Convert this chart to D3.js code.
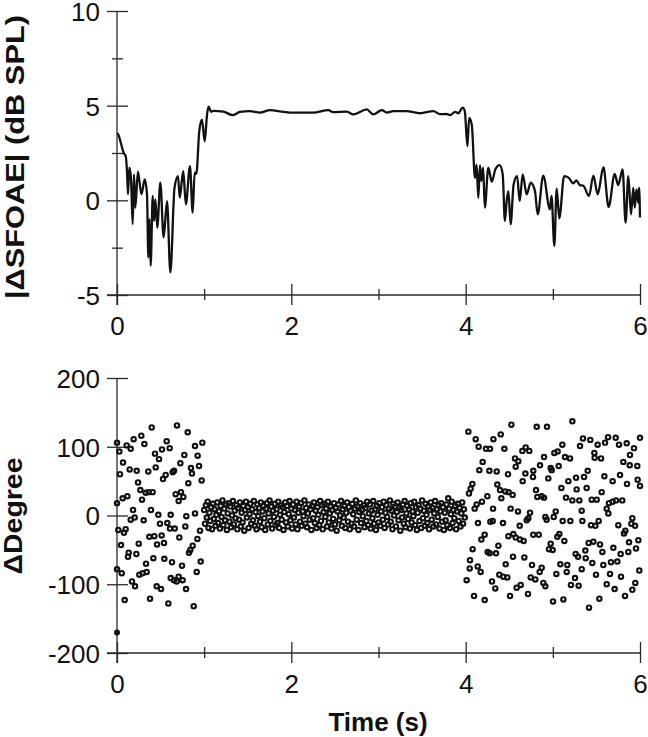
<!DOCTYPE html>
<html><head><meta charset="utf-8">
<script src="https://cdn.jsdelivr.net/npm/d3@7"></script>
<style>
html,body{margin:0;padding:0;background:#fff;}
svg{display:block;}
</style></head>
<body>
<svg id="chart" width="648" height="737"></svg>
<script>
// ---------- DATA ----------
const timeTicksMajor = [0, 2, 4, 6];
const timeTicksMinor = [1, 3, 5];
const sfoaeTicksMajor = [-5, 0, 5, 10];
const sfoaeTicksMinor = [-2.5, 2.5, 7.5];
const degreeTicks = [-200, -100, 0, 100, 200];

// |ΔSFOAE| trace: time (s), dB SPL
const sfoaeTime = [0.00,0.01,0.04,0.077,0.10,0.115,0.126,0.141,0.16,0.18,0.195,0.21,0.24,0.28,0.318,0.344,0.36,0.372,0.386,0.41,0.425,0.44,0.462,0.497,0.535,0.574,0.612,0.66,0.70,0.72,0.76,0.79,0.837,0.868,0.891,0.91,0.944,0.975,1.006,1.033,1.05,1.08,1.105,1.22,1.33,1.41,1.525,1.64,1.755,1.91,2.02,2.25,2.425,2.48,2.635,2.71,2.865,2.94,3.04,3.095,3.17,3.32,3.475,3.63,3.705,3.78,3.82,3.88,3.915,3.966,3.99,4.02,4.04,4.07,4.107,4.125,4.145,4.164,4.18,4.20,4.22,4.26,4.30,4.34,4.39,4.425,4.45,4.47,4.49,4.516,4.55,4.59,4.62,4.654,4.70,4.746,4.795,4.826,4.89,4.967,4.985,5.017,5.044,5.074,5.13,5.18,5.235,5.27,5.31,5.35,5.415,5.465,5.515,5.58,5.64,5.71,5.75,5.80,5.835,5.866,5.897,5.923,5.94,5.96,5.98,5.99,6.0];
const sfoaeValue = [3.5,3.51,3.1,2.5,2.33,1.5,0.32,1.72,1.2,-1.26,1.37,-0.39,1.51,0.32,1.1,0.32,-3.02,-1.0,-3.46,0.23,-1.09,0.05,-1.44,0.93,-1.96,-0.04,-3.81,0.67,1.28,0.14,1.54,-0.21,1.81,-0.65,1.46,1.4,3.65,4.26,3.12,4.53,4.95,4.68,4.72,4.68,4.5,4.67,4.71,4.63,4.76,4.67,4.63,4.63,4.76,4.66,4.69,4.54,4.8,4.54,4.76,4.63,4.71,4.71,4.6,4.71,4.55,4.56,4.5,4.67,4.6,4.9,4.72,2.86,4.35,4.0,1.19,1.89,0.14,1.84,1.02,1.72,-0.39,1.72,0.98,1.63,1.86,1.37,-1.09,-0.04,0.49,-1.26,0.84,1.28,-0.04,1.37,0.32,0.93,0.49,-0.74,1.3,-0.47,0.23,-2.4,0.62,-0.95,1.28,1.2,0.9,1.05,0.8,0.77,0.23,1.3,0.32,1.75,-0.35,1.4,0.8,1.63,-1.18,1.28,-0.74,0.67,-0.39,0.58,-0.12,0.67,-0.91];

// ΔDegree scatter: [time (s), degree]
const onsetPoints = [[0.398,128],[0.688,131],[0.811,121],[0.279,116],[0.191,111],[0.314,104],[0.570,108],[0.979,106],[0.0,106],[0.111,102],[0.157,97],[0.027,93],[0.436,90],[0.516,96],[0.604,98],[0.895,101],[0.925,87],[0.482,82],[0.772,88],[0.069,77],[0.727,76],[0.941,72],[0.034,60],[0.145,67],[0.226,65],[0.359,64],[0.444,70],[0.528,53],[0.558,59],[0.639,63],[0.654,65],[0.849,69],[0.86,61],[0.818,47],[0.971,51],[0.241,48],[0.268,37],[0.287,23],[0.329,33],[0.363,34],[0.409,34],[0.673,31],[0.734,34],[0.761,27],[0.707,21],[0.065,25],[0.119,28],[0.0,18],[0.184,8],[0.39,8],[0.157,-6],[0.203,-3],[0.306,-7],[0.474,1],[0.616,1],[0.493,-12],[0.577,-11],[0.608,-19],[0.662,-19],[0.795,-1],[0.895,3],[0.015,-21],[0.08,-25],[0.099,-20],[0.784,-16],[0.952,-22],[0.371,-31],[0.428,-30],[0.512,-29],[0.459,-42],[0.539,-40],[0.715,-32],[0.922,-34],[0.868,-44],[0.841,-50],[0.826,-54],[0.046,-43],[0.249,-41],[0.134,-54],[0.126,-60],[0.222,-56],[0.417,-62],[0.543,-63],[0.631,-68],[0.333,-70],[0.746,-73],[0.96,-67],[0.0,-78],[0.054,-84],[0.256,-86],[0.294,-84],[0.340,-82],[0.616,-91],[0.654,-94],[0.707,-89],[0.753,-94],[0.685,-96],[0.172,-96],[0.207,-103],[0.455,-103],[0.505,-107],[0.792,-107],[0.914,-82],[0.088,-123],[0.379,-121],[0.589,-128],[0.88,-132]];

const steadyPoints = [[1.00,8],[1.01,-12],[1.02,15],[1.03,-3],[1.04,20],[1.05,-18],[1.06,4],[1.07,-8],[1.08,12],[1.09,-20],[1.10,17],[1.11,-5],[1.12,9],[1.13,-15],[1.14,1],[1.15,19],[1.16,-11],[1.17,6],[1.18,-19],[1.19,14],[1.20,-2],[1.21,22],[1.22,-14],[1.23,10],[1.24,-7],[1.25,16],[1.26,-21],[1.27,3],[1.28,18],[1.29,-9],[1.30,13],[1.31,-17],[1.32,0],[1.33,21],[1.34,-13],[1.35,7],[1.36,-4],[1.37,15],[1.38,-20],[1.39,11],[1.40,-6],[1.41,19],[1.42,-16],[1.43,4],[1.44,-10],[1.45,14],[1.46,-22],[1.47,8],[1.48,20],[1.49,-3],[1.50,12],[1.51,-18],[1.52,2],[1.53,17],[1.54,-12],[1.55,9],[1.56,-7],[1.57,21],[1.58,-15],[1.59,5],[1.60,-20],[1.61,16],[1.62,-1],[1.63,11],[1.64,-9],[1.65,19],[1.66,-17],[1.67,6],[1.68,14],[1.69,-4],[1.70,-21],[1.71,10],[1.72,18],[1.73,-13],[1.74,3],[1.75,22],[1.76,-8],[1.77,13],[1.78,-19],[1.79,7],[1.80,-2],[1.81,17],[1.82,-14],[1.83,9],[1.84,-11],[1.85,20],[1.86,-18],[1.87,1],[1.88,15],[1.89,-6],[1.90,12],[1.91,-21],[1.92,5],[1.93,19],[1.94,-10],[1.95,14],[1.96,-16],[1.97,2],[1.98,21],[1.99,-7],[2.00,10],[2.01,-19],[2.02,16],[2.03,-3],[2.04,8],[2.05,-13],[2.06,20],[2.07,-20],[2.08,4],[2.09,13],[2.10,-9],[2.11,18],[2.12,-15],[2.13,6],[2.14,-1],[2.15,22],[2.16,-12],[2.17,11],[2.18,-17],[2.19,3],[2.20,16],[2.21,-6],[2.22,9],[2.23,-21],[2.24,14],[2.25,-4],[2.26,19],[2.27,-11],[2.28,7],[2.29,-18],[2.30,12],[2.31,1],[2.32,-14],[2.33,21],[2.34,-8],[2.35,15],[2.36,-20],[2.37,5],[2.38,17],[2.39,-2],[2.40,10],[2.41,-16],[2.42,20],[2.43,-10],[2.44,3],[2.45,13],[2.46,-19],[2.47,8],[2.48,-5],[2.49,18],[2.50,-13],[2.51,11],[2.52,-22],[2.53,6],[2.54,16],[2.55,-7],[2.56,0],[2.57,21],[2.58,-15],[2.59,9],[2.60,-3],[2.61,14],[2.62,-18],[2.63,4],[2.64,19],[2.65,-9],[2.66,12],[2.67,-20],[2.68,7],[2.69,-12],[2.70,17],[2.71,2],[2.72,-16],[2.73,10],[2.74,22],[2.75,-6],[2.76,13],[2.77,-21],[2.78,5],[2.79,18],[2.80,-11],[2.81,8],[2.82,-1],[2.83,15],[2.84,-17],[2.85,11],[2.86,-8],[2.87,20],[2.88,-14],[2.89,3],[2.90,16],[2.91,-19],[2.92,7],[2.93,-4],[2.94,21],[2.95,-12],[2.96,9],[2.97,-21],[2.98,14],[2.99,1],[3.00,-10],[3.01,18],[3.02,-15],[3.03,6],[3.04,12],[3.05,-6],[3.06,20],[3.07,-18],[3.08,4],[3.09,15],[3.10,-2],[3.11,-13],[3.12,10],[3.13,22],[3.14,-9],[3.15,7],[3.16,-20],[3.17,17],[3.18,0],[3.19,13],[3.20,-16],[3.21,5],[3.22,19],[3.23,-7],[3.24,11],[3.25,-22],[3.26,8],[3.27,-3],[3.28,16],[3.29,-12],[3.30,21],[3.31,-17],[3.32,3],[3.33,14],[3.34,-5],[3.35,9],[3.36,-19],[3.37,18],[3.38,-10],[3.39,6],[3.40,-1],[3.41,20],[3.42,-14],[3.43,12],[3.44,-21],[3.45,4],[3.46,15],[3.47,-8],[3.48,10],[3.49,-18],[3.50,22],[3.51,-4],[3.52,7],[3.53,-15],[3.54,17],[3.55,1],[3.56,-11],[3.57,13],[3.58,-20],[3.59,8],[3.60,19],[3.61,-6],[3.62,11],[3.63,-16],[3.64,3],[3.65,21],[3.66,-13],[3.67,9],[3.68,-2],[3.69,15],[3.70,-19],[3.71,6],[3.72,18],[3.73,-9],[3.74,12],[3.75,-21],[3.76,4],[3.77,-7],[3.78,16],[3.79,-14],[3.80,25],[3.81,10],[3.82,-18],[3.83,2],[3.84,20],[3.85,-11],[3.86,8],[3.87,-4],[3.88,14],[3.89,-20],[3.90,6],[3.91,17],[3.92,-8],[3.93,11],[3.94,-16],[3.95,3],[3.96,19],[3.97,-12],[3.98,9],[3.99,-3]];

const offsetPoints = [[4.031,122],[4.115,111],[4.149,100],[4.233,97],[4.279,97],[4.318,111],[4.402,118],[4.444,97],[4.524,132],[4.815,129],[4.933,129],[5.224,137],[5.346,112],[5.430,110],[5.633,114],[5.721,113],[6.0,113],[5.109,103],[5.312,101],[5.514,103],[5.599,106],[5.759,103],[5.847,105],[5.931,98],[4.650,94],[4.688,99],[4.730,94],[5.017,91],[5.055,93],[5.140,85],[5.197,83],[5.476,91],[5.480,84],[5.553,83],[5.885,88],[4.195,78],[4.157,66],[4.272,65],[4.356,64],[4.486,60],[4.566,83],[4.604,79],[4.574,71],[4.685,61],[4.776,65],[4.772,56],[4.899,85],[4.853,73],[4.975,69],[4.987,66],[4.948,54],[5.067,72],[5.266,55],[5.358,56],[5.400,65],[5.178,50],[5.591,57],[5.771,59],[5.809,78],[5.882,73],[5.969,72],[5.973,52],[6.0,43],[5.686,50],[5.851,46],[4.654,50],[4.077,46],[4.057,39],[4.038,32],[4.363,45],[4.394,37],[4.455,35],[4.493,34],[4.539,30],[4.409,25],[4.249,28],[4.187,20],[4.126,16],[4.103,10],[4.314,10],[4.516,10],[4.600,6],[4.738,4],[4.807,37],[4.822,27],[4.872,28],[4.899,26],[5.098,40],[5.273,38],[5.388,40],[5.560,34],[5.151,26],[5.224,22],[5.304,22],[5.331,7],[5.446,23],[5.503,23],[5.644,18],[5.686,20],[5.725,22],[5.797,22],[5.618,10],[5.637,3],[5.912,-4],[5.943,-15],[5.901,-12],[5.816,-26],[5.832,-22],[5.751,-14],[5.526,-8],[5.488,-15],[5.438,-14],[5.339,-8],[5.201,-8],[5.113,-8],[5.033,6],[5.010,-2],[4.914,-2],[4.929,-6],[4.719,-4],[4.700,-7],[4.620,-15],[4.428,-11],[4.310,-8],[4.283,-9],[4.141,-11],[4.218,-28],[4.180,-35],[4.490,-30],[4.547,-27],[4.574,-32],[4.623,-35],[4.665,-37],[4.776,-28],[4.838,-28],[5.052,-31],[5.075,-27],[5.132,-37],[4.975,-41],[4.956,-49],[4.998,-50],[5.411,-40],[5.465,-38],[5.541,-42],[5.694,-47],[5.874,-39],[5.981,-36],[4.080,-49],[4.252,-53],[4.275,-55],[4.348,-55],[4.375,-44],[4.543,-60],[4.673,-61],[5.262,-56],[5.289,-60],[5.373,-51],[5.377,-62],[5.568,-53],[5.778,-56],[5.866,-53],[5.954,-48],[4.050,-65],[4.138,-74],[4.172,-82],[4.046,-77],[4.459,-71],[4.761,-72],[4.872,-76],[4.849,-82],[5.086,-71],[5.166,-72],[5.159,-82],[5.331,-78],[5.453,-69],[5.579,-72],[5.667,-68],[5.740,-67],[4.386,-86],[4.432,-89],[4.478,-90],[4.302,-96],[4.340,-106],[4.011,-94],[4.746,-90],[4.799,-93],[4.891,-98],[4.914,-103],[5.040,-85],[5.254,-91],[5.208,-101],[5.296,-102],[5.495,-86],[5.656,-85],[5.782,-89],[5.992,-80],[5.946,-98],[5.618,-100],[5.709,-107],[5.912,-108],[4.585,-105],[4.631,-101],[4.715,-114],[4.509,-117],[4.096,-117],[4.218,-123],[5.002,-125],[5.121,-122],[5.415,-134],[5.534,-121],[5.828,-117]];

const filledPoints = [[0.0,-170]];

// ---------- DRAW ----------
const svg = d3.select("#chart");
const INK = "#111";
const AX = "#2a2a2a";
const tickFont = "Liberation Sans, Arial, sans-serif";
const fmt = d => String(d);   // plain hyphen-minus like the reference

const x = d3.scaleLinear().domain([0, 6]).range([117, 640]);
const yTop = d3.scaleLinear().domain([-5, 10]).range([295, 11]);
const yBot = d3.scaleLinear().domain([-200, 200]).range([653, 378]);

function drawAxes(yScale, yMajor, yMinor) {
  const x0 = x.range()[0], x1 = x.range()[1];
  const yb = yScale.range()[0], yt = yScale.range()[1];
  const g = svg.append("g");
  g.append("line").attr("x1", x0 - 10).attr("x2", x1).attr("y1", yb).attr("y2", yb)
    .attr("stroke", AX).attr("stroke-width", 1.3);
  g.append("line").attr("x1", x0).attr("x2", x0).attr("y1", yt).attr("y2", yb + 10)
    .attr("stroke", AX).attr("stroke-width", 1.3);

  g.append("g").attr("class", "yax").attr("transform", `translate(${x0},0)`)
    .call(d3.axisLeft(yScale).tickValues(yMajor).tickSize(10).tickPadding(7).tickFormat(fmt));
  g.append("g").attr("transform", `translate(${x0},0)`)
    .call(d3.axisRight(yScale).tickValues(yMajor).tickSize(11).tickFormat(""));
  if (yMinor.length) {
    g.append("g").attr("transform", `translate(${x0},0)`)
      .call(d3.axisLeft(yScale).tickValues(yMinor).tickSize(5).tickFormat(""));
    g.append("g").attr("transform", `translate(${x0},0)`)
      .call(d3.axisRight(yScale).tickValues(yMinor).tickSize(6).tickFormat(""));
  }
  g.append("g").attr("class", "xax").attr("transform", `translate(0,${yb})`)
    .call(d3.axisBottom(x).tickValues(timeTicksMajor).tickSize(10).tickFormat(fmt));
  g.append("g").attr("transform", `translate(0,${yb})`)
    .call(d3.axisTop(x).tickValues(timeTicksMajor).tickSize(11).tickFormat(""));
  g.append("g").attr("transform", `translate(0,${yb})`)
    .call(d3.axisBottom(x).tickValues(timeTicksMinor).tickSize(5).tickFormat(""));
  g.append("g").attr("transform", `translate(0,${yb})`)
    .call(d3.axisTop(x).tickValues(timeTicksMinor).tickSize(6).tickFormat(""));

  g.selectAll(".domain").remove();
  g.selectAll(".tick line").attr("stroke", AX).attr("stroke-width", 1.3);
  g.selectAll(".tick text").attr("fill", INK).style("font-family", tickFont).style("font-size", "26px");
  g.selectAll(".xax .tick text").attr("y", 40).attr("dy", 0);
  g.selectAll(".yax .tick text").attr("dy", "0.36em");
  return g;
}

drawAxes(yTop, sfoaeTicksMajor, sfoaeTicksMinor);
drawAxes(yBot, degreeTicks, []);

// line
const line = d3.line().x((d, i) => x(sfoaeTime[i])).y(d => yTop(d)).curve(d3.curveMonotoneX);
svg.append("path").datum(sfoaeValue).attr("d", line)
  .attr("fill", "none").attr("stroke", INK).attr("stroke-width", 2.3).attr("stroke-linejoin", "round");

// scatter
const allRing = onsetPoints.concat(steadyPoints, offsetPoints);
svg.append("g").selectAll("circle").data(allRing).join("circle")
  .attr("cx", d => x(d[0])).attr("cy", d => yBot(d[1])).attr("r", 2.2)
  .attr("fill", "none").attr("stroke", INK).attr("stroke-width", 2.1);
svg.append("g").selectAll("circle").data(filledPoints).join("circle")
  .attr("cx", d => x(d[0])).attr("cy", d => yBot(d[1])).attr("r", 3)
  .attr("fill", INK);

// titles
const titleFont = "Liberation Sans, Arial, sans-serif";
svg.append("text").attr("transform", "translate(24,157) rotate(-90)")
  .attr("text-anchor", "middle").style("font-family", titleFont).style("font-weight", "bold")
  .style("font-size", "25px").attr("textLength", 284).attr("lengthAdjust", "spacingAndGlyphs")
  .attr("fill", INK).text("|ΔSFOAE| (dB SPL)");
svg.append("text").attr("transform", "translate(22,516) rotate(-90)")
  .attr("text-anchor", "middle").style("font-family", titleFont).style("font-weight", "bold")
  .style("font-size", "25px").attr("textLength", 117).attr("lengthAdjust", "spacingAndGlyphs")
  .attr("fill", INK).text("ΔDegree");
svg.append("text").attr("x", 378).attr("y", 731)
  .attr("text-anchor", "middle").style("font-family", titleFont).style("font-weight", "bold")
  .style("font-size", "26px").attr("fill", INK).text("Time (s)");
</script>
</body></html>
